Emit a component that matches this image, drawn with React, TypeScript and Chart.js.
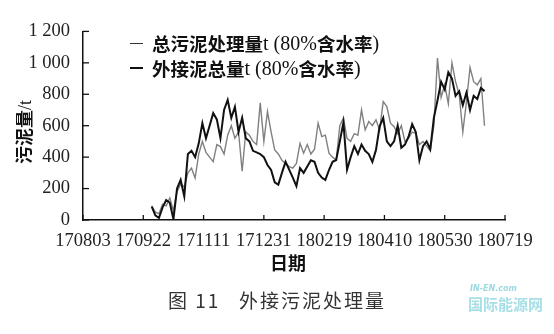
import React, { useEffect, useRef } from "react";
import { Chart, registerables } from "chart.js";

Chart.register(...registerables);

// x = days since 2017-08-03
const days = [
  57, 60, 63, 66, 69, 72, 75, 78, 81, 84, 87, 90, 93, 96, 99, 102, 105, 108, 111, 114,
  117, 120, 123, 126, 129, 132, 135, 138, 141, 144, 147, 150, 153, 156, 159, 162, 165, 168, 171, 174,
  177, 180, 183, 186, 189, 192, 195, 198, 201, 204, 207, 210, 213, 216, 219, 222, 225, 228, 231, 234,
  237, 240, 243, 246, 249, 252, 255, 258, 261, 264, 267, 270, 273, 276, 279, 282, 285, 288, 291, 294,
  297, 300, 303, 306, 309, 312, 315, 318, 321, 324, 327, 330, 333,
];

// 外接泥总量 (black)
const externalSludge = [
  85, 30, 13, 80, 127, 110, 5, 200, 255, 150, 420, 440, 400, 488, 616, 520, 600, 680, 640, 520,
  700, 764, 650, 720, 560, 650, 520, 500, 440, 430, 420, 400, 350, 318, 240, 225, 300, 370, 320, 270,
  215, 330, 300, 340, 380, 370, 300, 270, 255, 318, 370, 382, 500, 620, 320, 400, 470, 420, 480, 440,
  420, 370, 446, 594, 650, 500, 470, 500, 600, 460, 480, 530, 610, 560, 380, 470, 500, 450, 650, 760,
  880, 830, 940, 900, 790, 820, 730, 810, 700, 790, 770, 840, 820,
];

// 总污泥处理量 (grey)
const totalSludge = [
  90, 50, 40, 100, 90, 140, 60, 180, 230, 210, 300, 330, 267, 420, 500, 430, 400, 371, 480, 467,
  420, 540, 600, 520, 560, 310, 560, 540, 500, 480, 745, 500, 690, 560, 446, 420, 380, 360, 340, 330,
  360, 488, 425, 480, 420, 450, 616, 531, 540, 425, 400, 382, 600, 650, 520, 500, 550, 540, 700, 573,
  626, 600, 637, 573, 753, 722, 616, 594, 550, 600, 500, 520, 560, 552, 480, 500, 470, 440, 600, 1030,
  780, 860, 740, 1000, 880, 800, 560, 750, 970, 880, 860, 900, 600,
];

const xTickLabels = ["170803", "170922", "171111", "171231", "180219", "180410", "180530", "180719"];
const yTickLabels = ["0", "200", "400", "600", "800", "1 000", "1 200"];

const seriesNames = ["总污泥处理量", "外接泥总量"];
const suffixLatin = "t (80%";
const suffixCjk = "含水率";
const suffixEnd = ")";

const inwardTicks = {
  id: "inwardTicks",
  afterDraw(chart: any) {
    const { ctx, chartArea } = chart;
    const xs = chart.scales.x;
    const ys = chart.scales.y;
    ctx.save();
    ctx.strokeStyle = "#111";
    ctx.lineWidth = 1.3;
    xs.ticks.forEach((t: any) => {
      const px = xs.getPixelForValue(t.value);
      ctx.beginPath();
      ctx.moveTo(px, chartArea.bottom);
      ctx.lineTo(px, chartArea.bottom - 5);
      ctx.stroke();
    });
    ys.ticks.forEach((t: any) => {
      const py = ys.getPixelForValue(t.value);
      ctx.beginPath();
      ctx.moveTo(chartArea.left, py);
      ctx.lineTo(chartArea.left + 6, py);
      ctx.stroke();
    });
    ctx.restore();
  },
};

const serifFamily = "'Liberation Serif', 'Times New Roman', serif";

export default function App() {
  const ref = useRef<HTMLCanvasElement | null>(null);
  useEffect(() => {
    if (!ref.current) return;
    const chart = new Chart(ref.current, {
      type: "line",
      data: {
        datasets: [
          {
            label: seriesNames[1],
            data: days.map((d, i) => ({ x: d, y: externalSludge[i] })),
            borderColor: "#111",
            borderWidth: 2,
            pointRadius: 0,
            tension: 0,
            order: 1,
          },
          {
            label: seriesNames[0],
            data: days.map((d, i) => ({ x: d, y: totalSludge[i] })),
            borderColor: "#808080",
            borderWidth: 1.4,
            pointRadius: 0,
            tension: 0,
            order: 2,
          },
        ],
      },
      options: {
        animation: false,
        responsive: false,
        layout: { autoPadding: false, padding: { top: 31.4, right: 49, left: 0, bottom: 0 } },
        plugins: { legend: { display: false }, tooltip: { enabled: false } },
        scales: {
          x: {
            type: "linear",
            min: 0,
            max: 350,
            afterFit: (s: any) => {
              s.height = 114;
            },
            ticks: {
              stepSize: 50,
              autoSkip: false,
              maxRotation: 0,
              padding: 2,
              color: "#222",
              font: { family: serifFamily, size: 18.5 },
              callback: (v: any) => xTickLabels[Math.round(Number(v) / 50)] ?? "",
            },
            grid: { display: false },
            border: { display: true, color: "#111", width: 1.5 },
          },
          y: {
            min: 0,
            max: 1200,
            afterFit: (s: any) => {
              s.width = 83;
            },
            ticks: {
              stepSize: 200,
              padding: 5,
              color: "#222",
              font: { family: serifFamily, size: 18.5 },
              callback: (v: any) => yTickLabels[Math.round(Number(v) / 200)] ?? "",
            },
            grid: { display: false },
            border: { display: true, color: "#111", width: 1.5 },
          },
        },
      },
      plugins: [inwardTicks],
    } as any);
    return () => chart.destroy();
  }, []);

  const cjk = "'Noto Sans CJK SC', sans-serif";

  return (
    <div style={{ position: "absolute", left: 0, top: 0, width: 554, height: 334, background: "#fff", overflow: "hidden" }}>
      <canvas ref={ref} width={554} height={334} style={{ position: "absolute", left: 0, top: 0 }} />
      {/* legend */}
      {[0, 1].map((i) => (
        <div
          key={i}
          style={{
            position: "absolute",
            left: 130,
            top: i === 0 ? 31 : 56,
            height: 24,
            display: "flex",
            alignItems: "center",
            whiteSpace: "nowrap",
            color: "#111",
            lineHeight: "24px",
          }}
        >
          <span
            style={{
              display: "inline-block",
              width: 13,
              height: 0,
              borderTop: i === 0 ? "1.5px solid #333" : "2px solid #111",
              marginRight: 9,
            }}
          />
          <span style={{ fontFamily: cjk, fontWeight: 700, fontSize: 18.5 }}>{seriesNames[i]}</span>
          <span style={{ fontFamily: serifFamily, fontSize: 20 }}>{suffixLatin}</span>
          <span style={{ fontFamily: cjk, fontWeight: 700, fontSize: 18.5 }}>{suffixCjk}</span>
          <span style={{ fontFamily: serifFamily, fontSize: 20 }}>{suffixEnd}</span>
        </div>
      ))}
      {/* y title */}
      <div
        style={{
          position: "absolute",
          left: 23,
          top: 132,
          transform: "translate(-50%, -50%) rotate(-90deg)",
          whiteSpace: "nowrap",
          fontFamily: cjk,
          fontWeight: 700,
          fontSize: 18,
          color: "#111",
        }}
      >
        污泥量<span style={{ fontFamily: serifFamily, fontWeight: 400 }}>/t</span>
      </div>
      {/* x title */}
      <div
        style={{
          position: "absolute",
          left: 288,
          top: 262,
          transform: "translate(-50%, -50%)",
          whiteSpace: "nowrap",
          fontFamily: cjk,
          fontWeight: 700,
          fontSize: 18,
          color: "#111",
        }}
      >
        日期
      </div>
      {/* caption */}
      <div
        style={{
          position: "absolute",
          left: 168,
          top: 299,
          transform: "translate(0, -50%)",
          whiteSpace: "nowrap",
          fontFamily: cjk,
          fontSize: 19,
          color: "#333",
          letterSpacing: 2,
        }}
      >
        图 11&nbsp;&nbsp;&nbsp;外接污泥处理量
      </div>
      {/* watermark */}
      <div style={{ position: "absolute", left: 470, top: 284, fontFamily: "'DejaVu Sans', sans-serif", fontSize: 8, fontWeight: 700, fontStyle: "italic", color: "#9fd9e0" }}>
        IN-EN.com
      </div>
      <div style={{ position: "absolute", left: 468, top: 293, fontFamily: cjk, fontSize: 15, fontWeight: 700, color: "#a8dfe6" }}>
        国际能源网
      </div>
    </div>
  );
}
